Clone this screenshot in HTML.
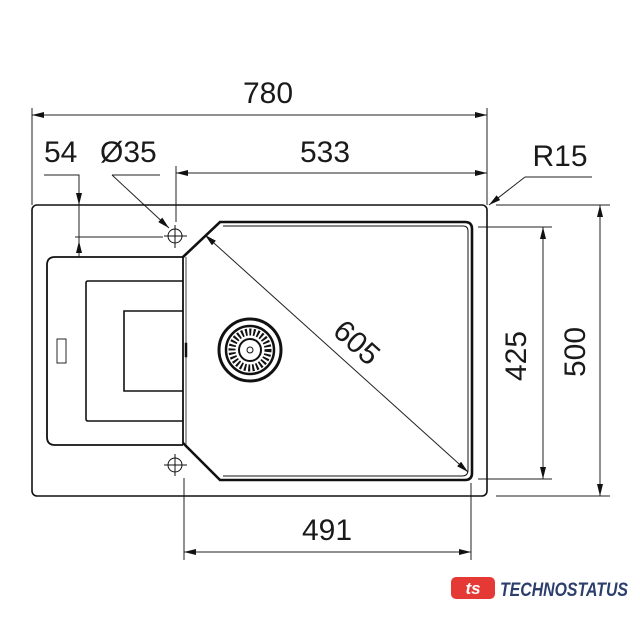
<!DOCTYPE html>
<html><head><meta charset="utf-8"><style>
html,body{margin:0;padding:0;background:#fff;width:640px;height:640px;overflow:hidden}
svg{display:block}
text{font-family:"Liberation Sans",sans-serif;fill:#1a1a1a}
</style></head><body>
<svg width="640" height="640" viewBox="0 0 640 640" xmlns="http://www.w3.org/2000/svg">
<defs>
<marker id="a" viewBox="0 0 12 6" refX="12" refY="3" markerWidth="12" markerHeight="6" orient="auto-start-reverse" markerUnits="userSpaceOnUse"><path d="M0,0 L12,3 L0,6 z" fill="#111"/></marker>
</defs>
<g stroke="#222" fill="none" stroke-width="1">
<line x1="32" y1="108" x2="32" y2="205"/>
<line x1="487" y1="108" x2="487" y2="205"/>
<line x1="176" y1="166" x2="176" y2="222"/>
<line x1="184" y1="478" x2="184" y2="560"/>
<line x1="471" y1="483" x2="471" y2="560"/>
<line x1="478" y1="227" x2="552" y2="227"/>
<line x1="478" y1="479" x2="552" y2="479"/>
<line x1="496" y1="205" x2="610" y2="205"/>
<line x1="496" y1="496" x2="610" y2="496"/>
<line x1="32" y1="115" x2="487" y2="115" marker-start="url(#a)" marker-end="url(#a)"/>
<line x1="176" y1="173" x2="487" y2="173" marker-start="url(#a)" marker-end="url(#a)"/>
<line x1="184" y1="552" x2="471" y2="552" marker-start="url(#a)" marker-end="url(#a)"/>
<line x1="543" y1="227" x2="543" y2="479" marker-start="url(#a)" marker-end="url(#a)"/>
<line x1="600" y1="205" x2="600" y2="496" marker-start="url(#a)" marker-end="url(#a)"/>
<line x1="205" y1="235" x2="468" y2="472" marker-start="url(#a)" marker-end="url(#a)"/>
<polyline points="592,177 525,177"/>
<line x1="525" y1="177" x2="489" y2="205" marker-end="url(#a)"/>
<polyline points="44,175 79,175 79,205" marker-end="url(#a)"/>
<line x1="79" y1="205" x2="79" y2="257"/>
<line x1="79" y1="257" x2="79" y2="241" marker-end="url(#a)"/>
<line x1="75" y1="237" x2="163" y2="237"/>
<polyline points="160,175 112,175"/>
<line x1="112" y1="175" x2="169" y2="228" marker-end="url(#a)"/>
</g>
<g fill="none" stroke="#111">
<rect x="32" y="205" width="455" height="291" rx="5" stroke-width="1.6"/>
<path d="M183,257 L220,222 L465,222 Q472,222 472,229 L472,473 Q472,480 465,480 L220,480 L183,443" stroke-width="2.6"/>
<path d="M223,226 L463,226 Q468,226 468,231 L468,470 Q468,476 462,476 L223,476" stroke-width="1"/>
<path d="M183,257 L55,257 Q47,257 47,265 L47,437 Q47,445 55,445 L183,445" stroke-width="1.8"/>
<line x1="183" y1="257" x2="183" y2="445" stroke-width="1.8"/>
<line x1="186" y1="257" x2="186" y2="445" stroke-width="0.8"/>
<path d="M183,281 L88,281 Q86,281 86,283 L86,419 Q86,421 88,421 L183,421" stroke-width="1.6"/>
<path d="M183,311 L124,311 L124,391 L183,391" stroke-width="1.6"/>
<rect x="57" y="339" width="9" height="24" stroke-width="0.9"/>
<rect x="185" y="343" width="2" height="14" fill="#111" stroke-width="0.5"/>
<g stroke-width="1">
<circle cx="175" cy="236" r="7"/><line x1="164" y1="236" x2="187" y2="236"/><line x1="175" y1="225" x2="175" y2="248"/>
<circle cx="175" cy="465" r="7"/><line x1="164" y1="465" x2="187" y2="465"/><line x1="175" y1="454" x2="175" y2="476"/>
</g>
<circle cx="250" cy="350" r="31" stroke-width="3"/>
<circle cx="250" cy="350" r="24" stroke-width="2.5"/>
<circle cx="250" cy="350" r="18" stroke-width="7" stroke-dasharray="2 2"/>
<circle cx="250" cy="350" r="11" stroke-width="2"/>
<circle cx="250" cy="350" r="3" stroke-width="1"/>
</g>
<g font-size="30" style="fill:#222">
<text x="268" y="103" text-anchor="middle">780</text>
<text x="325" y="162" text-anchor="middle">533</text>
<text x="44" y="162">54</text>
<text x="100" y="162">Ø35</text>
<text x="560" y="166" text-anchor="middle">R15</text>
<text x="327" y="540" text-anchor="middle">491</text>
<text transform="translate(526,356) rotate(-90)" text-anchor="middle">425</text>
<text transform="translate(585,352) rotate(-90)" text-anchor="middle">500</text>
<text transform="translate(350,350) rotate(42)" text-anchor="middle">605</text>
</g>
<g transform="translate(451,577)">
<rect x="0" y="0" width="44" height="22" rx="5" fill="#e53935"/>
<text x="22" y="17" text-anchor="middle" font-size="17" font-weight="bold" style="fill:#fff;font-style:italic">ts</text>
</g>
<text x="500" y="596" font-size="19" font-weight="bold" font-style="italic" textLength="128" lengthAdjust="spacingAndGlyphs" style="fill:#2c3e6b">TECHNOSTATUS</text>
</svg>
</body></html>
